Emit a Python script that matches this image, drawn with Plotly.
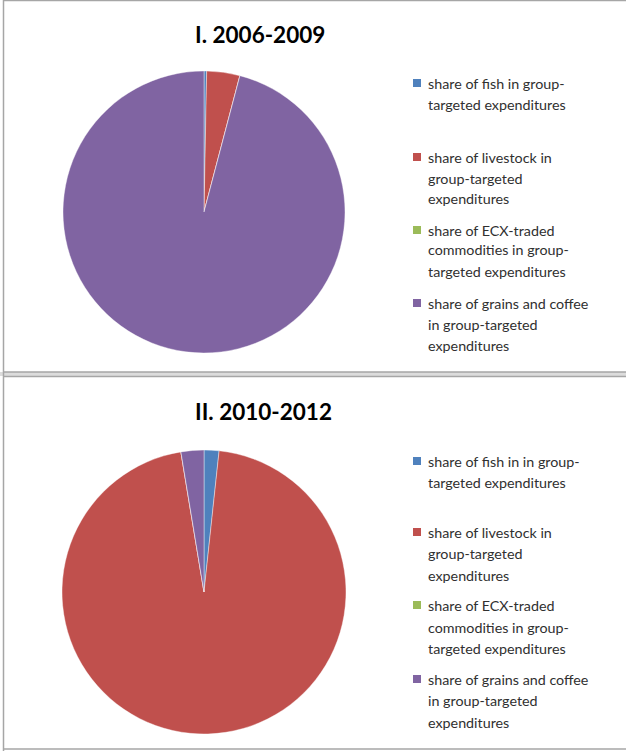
import plotly.graph_objects as go

W, H = 626, 751

categories_1 = [
    "share of fish in group-targeted expenditures",
    "share of livestock in group-targeted expenditures",
    "share of ECX-traded commodities in group-targeted expenditures",
    "share of grains and coffee in group-targeted expenditures",
]
categories_2 = [
    "share of fish in in group-targeted expenditures",
    "share of livestock in group-targeted expenditures",
    "share of ECX-traded commodities in group-targeted expenditures",
    "share of grains and coffee in group-targeted expenditures",
]
values_1 = [0.3, 3.8, 0.0, 95.9]
values_2 = [1.7, 95.7, 0.0, 2.6]
colors = ["#4F81BD", "#C0504D", "#9BBB59", "#8064A2"]
titles = ["I. 2006-2009", "II. 2010-2012"]

legend_lines_1 = [
    ["share of fish in group-", "targeted expenditures"],
    ["share of livestock in", "group-targeted", "expenditures"],
    ["share of ECX-traded", "commodities in group-", "targeted expenditures"],
    ["share of grains and coffee", "in group-targeted", "expenditures"],
]
legend_lines_2 = [
    ["share of fish in in group-", "targeted expenditures"],
    ["share of livestock in", "group-targeted", "expenditures"],
    ["share of ECX-traded", "commodities in group-", "targeted expenditures"],
    ["share of grains and coffee", "in group-targeted", "expenditures"],
]


def px(x):
    return x / W


def py(y):
    return 1 - y / H


fig = go.Figure()

# pie domains (pixel boxes)
pies = [
    (categories_1, values_1, (63, 345), (71, 353)),
    (categories_2, values_2, (62, 346), (450, 734)),
]
for cats, vals, (x0, x1), (y0, y1) in pies:
    fig.add_trace(go.Pie(
        labels=cats, values=vals, sort=False, direction="clockwise",
        rotation=0, textinfo="none", hoverinfo="label+percent",
        marker=dict(colors=colors, line=dict(color="rgba(255,255,255,0.5)", width=0.8)),
        domain=dict(x=[px(x0), px(x1)], y=[py(y1), py(y0)]),
        showlegend=False,
    ))

annotations = []
shapes = []
font_family = "Lato, 'Open Sans', sans-serif"

# titles
for t, (cx, cy) in zip(titles, [(260, 34), (263, 411)]):
    annotations.append(dict(
        text="<b>%s</b>" % t, x=px(cx), y=py(cy), xref="paper", yref="paper",
        showarrow=False, xanchor="center", yanchor="middle",
        font=dict(family=font_family, size=22.5, color="#000000"),
    ))

# legend rows (line-centre pixel positions)
rows_1 = [[83, 104], [157, 178, 199], [230, 250, 271], [303, 324, 345]]
rows_2 = [[461, 482], [532, 553, 575], [605, 627, 648], [679, 700, 722]]
for lines, rows in [(legend_lines_1, rows_1), (legend_lines_2, rows_2)]:
    for i, (item, ys) in enumerate(zip(lines, rows)):
        shapes.append(dict(
            type="rect", xref="paper", yref="paper",
            x0=px(413), x1=px(421), y0=py(ys[0] - 4), y1=py(ys[0] + 4),
            fillcolor=colors[i], line=dict(width=0),
        ))
        for txt, yy in zip(item, ys):
            annotations.append(dict(
                text=txt, x=px(426), y=py(yy), xref="paper", yref="paper",
                showarrow=False, xanchor="left", yanchor="middle",
                font=dict(family=font_family, size=14.3, color="#303030"),
            ))

# panel borders
border = "#A6A6A6"
shapes += [
    dict(type="rect", xref="paper", yref="paper", x0=px(0), x1=px(W), y0=py(376), y1=py(372),
         fillcolor="#DCDCDC", line=dict(width=0), layer="below"),
    dict(type="line", xref="paper", yref="paper", x0=px(3), x1=px(W), y0=py(0.5), y1=py(0.5),
         line=dict(color=border, width=1.5)),
    dict(type="line", xref="paper", yref="paper", x0=px(3), x1=px(W), y0=py(372), y1=py(372),
         line=dict(color=border, width=1.5)),
    dict(type="line", xref="paper", yref="paper", x0=px(3), x1=px(W), y0=py(376.5), y1=py(376.5),
         line=dict(color=border, width=1.5)),
    dict(type="line", xref="paper", yref="paper", x0=px(3), x1=px(W), y0=py(749), y1=py(749),
         line=dict(color=border, width=1.5)),
    dict(type="line", xref="paper", yref="paper", x0=px(3.5), x1=px(3.5), y0=py(0), y1=py(751),
         line=dict(color=border, width=1.5)),
]

fig.update_layout(
    width=W, height=H, margin=dict(l=0, r=0, t=0, b=0),
    paper_bgcolor="white", plot_bgcolor="white",
    annotations=annotations, shapes=shapes, showlegend=False,
    font=dict(family=font_family),
)

fig.write_html(
    "out.html",
    config={"displayModeBar": False},
    post_script="document.body.style.margin='0';document.body.style.overflow='hidden';",
)
